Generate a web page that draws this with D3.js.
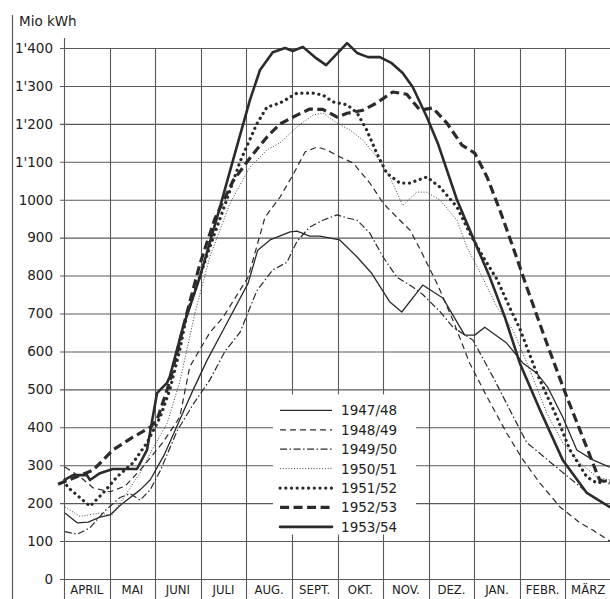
<!DOCTYPE html>
<html>
<head>
<meta charset="utf-8">
<script src="https://cdn.jsdelivr.net/npm/d3@7"></script>
<style>
  html, body { margin: 0; padding: 0; background: #fff; }
  .chart svg { display: block; }
  text { fill: #222; }
</style>
</head>
<body>
<div class="chart"></div>
<script>
// months of the hydrological year, april .. march
const months = ['APRIL', 'MAI', 'JUNI', 'JULI', 'AUG.', 'SEPT.', 'OKT.', 'NOV.', 'DEZ.', 'JAN.', 'FEBR.', 'MÄRZ'];
const yTicks = [0, 100, 200, 300, 400, 500, 600, 700, 800, 900, 1000, 1100, 1200, 1300, 1400];
const yTickLabels = ['0', '100', '200', '300', '400', '500', '600', '700', '800', '900', '1000', "1'100", "1'200", "1'300", "1'400"];
const seasons = ['1947/48', '1948/49', '1949/50', '1950/51', '1951/52', '1952/53', '1953/54'];

// [month position from 1. april, Mio kWh]
const s1947 = [[0.02,174],[0.29,148],[0.53,150],[0.79,163],[1.01,169],[1.29,200],[1.67,235],[1.89,261],[2.21,330],[2.54,420],[2.83,498],[3.14,577],[3.49,656],[4.04,780],[4.25,867],[4.52,894],[4.96,915],[5.11,917],[5.39,904],[5.61,904],[6.05,894],[6.43,849],[6.75,806],[7.15,730],[7.41,704],[7.87,775],[8.31,741],[8.79,643],[9.01,643],[9.23,664],[9.71,622],[10.07,569],[10.37,543],[10.61,506],[10.94,427],[11.25,340],[11.6,314],[11.97,295]];
const s1948 = [[0.02,295],[0.35,270],[0.64,240],[1.01,230],[1.34,245],[1.67,287],[2.17,360],[2.54,427],[2.76,560],[3.2,650],[3.49,690],[4.04,796],[4.41,954],[4.74,1007],[5.02,1065],[5.29,1126],[5.55,1139],[5.77,1131],[6.05,1113],[6.34,1097],[6.71,1044],[7.0,991],[7.3,954],[7.59,920],[7.81,870],[7.96,833],[8.18,780],[8.53,683],[8.9,569],[9.28,480],[9.71,385],[10.07,314],[10.44,253],[10.88,190],[11.32,148],[11.6,129],[11.97,100]];
const s1949 = [[0.02,125],[0.29,118],[0.57,135],[0.9,180],[1.23,215],[1.45,225],[1.67,208],[1.89,235],[2.11,285],[2.48,390],[2.83,460],[3.2,525],[3.53,600],[3.86,650],[4.23,760],[4.58,815],[4.89,835],[5.11,890],[5.39,928],[5.68,946],[5.99,960],[6.21,952],[6.43,946],[6.71,912],[7.0,849],[7.3,796],[7.65,770],[7.87,750],[8.25,705],[8.53,664],[8.97,630],[9.41,533],[9.78,446],[10.15,360],[10.88,287],[11.6,216],[11.97,190]];
const s1950 = [[0.02,190],[0.35,165],[0.79,174],[1.05,168],[1.34,220],[1.67,280],[1.95,345],[2.26,410],[2.54,520],[2.87,700],[3.2,850],[3.64,990],[4.08,1086],[4.45,1131],[4.74,1150],[5.11,1192],[5.46,1223],[5.68,1229],[5.99,1202],[6.27,1184],[6.56,1157],[6.86,1113],[7.15,1060],[7.43,985],[7.74,1020],[7.96,1020],[8.25,999],[8.62,946],[8.84,875],[9.12,810],[9.5,717],[9.85,656],[10.22,551],[10.59,438],[10.94,359],[11.32,306],[11.69,269],[11.97,261]];
const s1951 = [[0.02,261],[0.07,243],[0.57,192],[0.86,227],[1.16,269],[1.51,306],[1.82,359],[2.11,427],[2.32,498],[2.54,604],[2.7,700],[3.2,875],[3.57,1000],[3.86,1100],[4.23,1200],[4.45,1244],[4.74,1255],[5.11,1281],[5.46,1281],[5.68,1276],[5.9,1258],[6.21,1250],[6.43,1229],[6.64,1184],[6.86,1123],[7.08,1070],[7.37,1044],[7.59,1044],[7.96,1060],[8.25,1033],[8.62,981],[8.9,912],[9.19,850],[9.5,790],[9.78,715],[10.0,660],[10.37,543],[10.81,427],[11.1,340],[11.47,269],[11.69,253],[11.97,261]];
const s1952 = [[-0.13,250],[0.64,287],[1.07,340],[1.51,374],[1.89,400],[2.04,419],[2.32,520],[2.65,680],[2.98,830],[3.31,950],[3.71,1050],[4.08,1110],[4.45,1165],[4.74,1200],[5.11,1223],[5.39,1239],[5.68,1238],[5.99,1218],[6.21,1228],[6.56,1236],[6.86,1255],[7.21,1284],[7.52,1278],[7.81,1236],[8.09,1242],[8.4,1202],[8.73,1144],[9.01,1123],[9.28,1060],[9.56,973],[9.85,875],[10.15,770],[10.59,622],[11.03,480],[11.38,374],[11.6,306],[11.75,261],[11.97,253]];
const s1953 = [[0.02,262],[0.2,274],[0.5,274],[0.57,261],[0.79,279],[1.07,290],[1.6,290],[1.82,340],[2.04,490],[2.26,517],[2.32,533],[2.61,664],[2.98,796],[3.36,954],[3.71,1105],[4.08,1263],[4.3,1342],[4.58,1389],[4.85,1400],[5.02,1392],[5.24,1403],[5.5,1376],[5.75,1355],[6.21,1413],[6.43,1387],[6.67,1376],[6.93,1376],[7.19,1360],[7.43,1334],[7.65,1297],[7.96,1218],[8.2,1149],[8.62,1000],[9.06,875],[9.34,796],[9.67,691],[10.0,569],[10.44,446],[10.94,314],[11.47,227],[11.97,190]];

const seriesData = [s1947, s1948, s1949, s1950, s1951, s1952, s1953];

// line look of each season
const styles = [
  { width: 1.3, dash: null, cap: 'butt' },
  { width: 1.2, dash: '6,4', cap: 'butt' },
  { width: 1.2, dash: '7,2.5,1.5,2.5', cap: 'butt' },
  { width: 0.9, dash: '1,1.8', cap: 'butt' },
  { width: 3.2, dash: '0.1,5.6', cap: 'round' },
  { width: 3.2, dash: '9,4.5', cap: 'butt' },
  { width: 2.6, dash: null, cap: 'round' }
];

const W = 610, H = 599;
const margin = { top: 48, right: -1, bottom: 20, left: 64 };
const width = W - margin.left - margin.right;
const height = H - margin.top - margin.bottom;
const ink = '#2b2b2b';
const gridColor = '#5a5a5a';

const root = d3.select('.chart')
  .append('svg')
  .attr('width', W)
  .attr('height', H)
  .style('font-family', "'DejaVu Sans', sans-serif");

root.append('rect').attr('width', W).attr('height', H).attr('fill', '#fff');

// left border line and unit
root.append('line')
  .attr('x1', 12.5).attr('x2', 12.5)
  .attr('y1', 15).attr('y2', H)
  .attr('stroke', gridColor).attr('stroke-width', 1.2);

root.append('text')
  .attr('x', 19).attr('y', 26)
  .style('font-size', '13.5px')
  .text('Mio  kWh');

const svg = root.append('g')
  .attr('transform', `translate(${margin.left}, ${margin.top})`);

const x = d3.scaleLinear().domain([0, 12]).range([0, width]);
const y = d3.scaleLinear().domain([0, 1400]).range([height, 0]);

// horizontal grid with labels
const yAxis = d3.axisLeft(y)
  .tickValues(yTicks)
  .tickSize(-(width + 4))
  .tickPadding(7)
  .tickFormat((d, i) => yTickLabels[i]);

svg.append('g')
  .attr('transform', 'translate(-4, 0)')
  .call(yAxis)
  .call(g => g.select('.domain').remove())
  .call(g => g.selectAll('line').attr('stroke', gridColor).attr('stroke-width', 1.1))
  .call(g => g.selectAll('text')
    .attr('fill', '#222')
    .style('font-size', '13.5px')
    .style('font-family', "'DejaVu Sans', sans-serif"));

// vertical month lines, reaching down through the label row
svg.append('g')
  .selectAll('line')
  .data(d3.range(0, 13))
  .join('line')
  .attr('x1', d => Math.round(x(d)) + 0.5)
  .attr('x2', d => Math.round(x(d)) + 0.5)
  .attr('y1', d => d === 0 ? -10 : 0)
  .attr('y2', H - margin.top)
  .attr('stroke', gridColor)
  .attr('stroke-width', 1.1);

// month names
svg.append('g')
  .selectAll('text')
  .data(months)
  .join('text')
  .attr('x', (d, i) => x(i + 0.5))
  .attr('y', height + 15)
  .attr('text-anchor', 'middle')
  .style('font-family', "'DejaVu Sans Condensed', 'DejaVu Sans', sans-serif")
  .style('font-size', '13px')
  .text(d => d);

// curves
const line = d3.line()
  .x(d => x(d[0]))
  .y(d => y(d[1]))
  .curve(d3.curveLinear);

svg.append('g')
  .selectAll('path')
  .data(seriesData)
  .join('path')
  .attr('d', line)
  .attr('fill', 'none')
  .attr('stroke', ink)
  .attr('stroke-linejoin', 'round')
  .attr('stroke-width', (d, i) => styles[i].width)
  .attr('stroke-linecap', (d, i) => styles[i].cap)
  .attr('stroke-dasharray', (d, i) => styles[i].dash);

// legend (white box over the grid)
const legend = svg.append('g')
  .attr('transform', `translate(${x(4.74)}, ${y(455)})`);

legend.append('rect')
  .attr('x', -7).attr('y', -12)
  .attr('width', 143).attr('height', 140)
  .attr('fill', '#fff');

const rowH = 19.4;
const rows = legend.selectAll('g.row')
  .data(seasons)
  .join('g')
  .attr('class', 'row')
  .attr('transform', (d, i) => `translate(0, ${i * rowH + 4})`);

rows.append('line')
  .attr('x1', 0).attr('x2', 52)
  .attr('stroke', ink)
  .attr('stroke-width', (d, i) => styles[i].width)
  .attr('stroke-linecap', (d, i) => styles[i].cap)
  .attr('stroke-dasharray', (d, i) => styles[i].dash);

rows.append('text')
  .attr('x', 61)
  .attr('y', 5)
  .style('font-size', '13.5px')
  .text(d => d);
</script>
</body>
</html>
